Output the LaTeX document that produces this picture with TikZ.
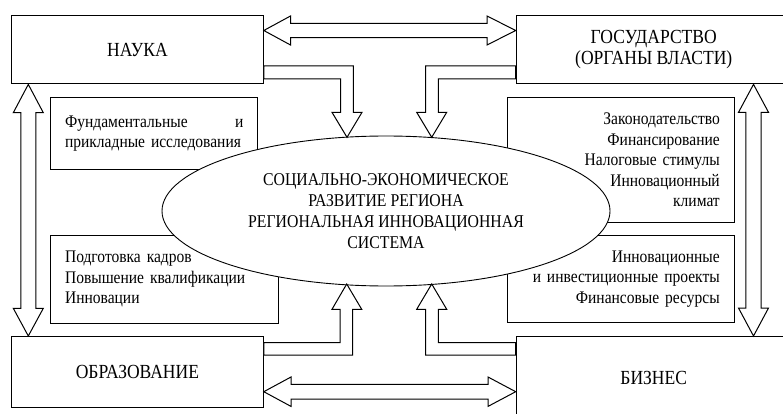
\documentclass[tikz,border=0pt]{standalone}
\usepackage{fontspec}
\setmainfont{Liberation Serif}[FakeStretch=0.877]
\usetikzlibrary{shapes.geometric}

\begin{document}
\begin{tikzpicture}[
    x=1pt, y=-1pt,
    actor/.style={draw, line width=1.1pt, inner sep=0pt, anchor=north west, align=center,
        font=\fontsize{20}{21}\selectfont},
    factors/.style={draw, line width=1.1pt, inner xsep=14.5pt, inner ysep=0pt, anchor=north west,
        font=\fontsize{17.7}{20.5}\selectfont},
    region/.style={ellipse, draw, line width=0.9pt, fill=white, inner sep=0pt, align=center,
        font=\fontsize{18}{20.8}\selectfont},
    blockarrow/.style={draw, line width=1pt, fill=white, line join=miter}
]
\useasboundingbox (0,0) rectangle (783,414);

% === four actors in the corners ===
\node[actor, minimum width=251.7, minimum height=68.3] (nauka) at (11,15) {НАУКА};
\node[actor, minimum width=275, minimum height=68.3] (gos) at (515.7,15) {ГОСУДАРСТВО\\(ОРГАНЫ ВЛАСТИ)};
\node[actor, minimum width=251.7, minimum height=71] (obraz) at (11,336) {ОБРАЗОВАНИЕ};
\node[actor, minimum width=275, minimum height=83] (biz) at (515.7,336) {БИЗНЕС};

% === what each actor brings ===
\node[factors, text width=178.3, minimum height=72.6, align=left] (fund) at (50,96.7)
    {Фундаментальные \hfill и\\прикладные исследования};
\node[factors, text width=198.7, minimum height=87.7, align=left] (kadry) at (50,235)
    {Подготовка кадров\\Повышение квалификации\\Инновации};
\node[factors, text width=197.4, minimum height=125, align=right] (zakon) at (507.3,96.7)
    {Законодательство\\Финансирование\\Налоговые стимулы\\Инновационный\\климат};
\node[factors, text width=197.4, minimum height=86.7, align=right] (proekty) at (507.3,235)
    {Инновационные\\и инвестиционные проекты\\Финансовые ресурсы};

% === centre ===
\node[region, minimum width=448, minimum height=150] (centre) at (386,211)
    {СОЦИАЛЬНО-ЭКОНОМИЧЕСКОЕ\\РАЗВИТИЕ РЕГИОНА\\РЕГИОНАЛЬНАЯ ИННОВАЦИОННАЯ\\СИСТЕМА};

% === two-way links between actors ===
\draw[blockarrow] (nauka.east |- 0,30.5) -- (290.5,16) -- (290.5,23.3) -- (487,23.3) -- (487,16)
    -- (gos.west |- 0,30.5) -- (487,45) -- (487,37.7) -- (290.5,37.7) -- (290.5,45) -- cycle;
\draw[blockarrow] (obraz.east |- 0,391.7) -- (291,377) -- (291,384.3) -- (488,384.3) -- (488,377)
    -- (biz.west |- 0,391.7) -- (488,406.4) -- (488,399.1) -- (291,399.1) -- (291,406.4) -- cycle;
\draw[blockarrow] (nauka.south -| 28.3,0) -- (43.3,112.7) -- (35.8,112.7) -- (35.8,308.3) -- (43.3,308.3)
    -- (obraz.north -| 28.3,0) -- (13.3,308.3) -- (20.8,308.3) -- (20.8,112.7) -- (13.3,112.7) -- cycle;
\draw[blockarrow] (gos.south -| 753.5,0) -- (768.5,112.3) -- (761.2,112.3) -- (761.2,308) -- (768.5,308)
    -- (biz.north -| 753.5,0) -- (738.5,308) -- (745.8,308) -- (745.8,112.3) -- (738.5,112.3) -- cycle;

% === actors feed the centre ===
\draw[blockarrow] (nauka.east |- 0,66) -- (353.3,66) -- (353.3,112.3) -- (362,112.3) -- (347,137.3)
    -- (332,112.3) -- (340.7,112.3) -- (340.7,79) -- (nauka.east |- 0,79) -- cycle;
\draw[blockarrow] (gos.west |- 0,66) -- (425.7,66) -- (425.7,112.3) -- (416.7,112.3) -- (431.7,137.3)
    -- (446.7,112.3) -- (438.3,112.3) -- (438.3,79) -- (gos.west |- 0,79) -- cycle;
\draw[blockarrow] (obraz.east |- 0,355) -- (352.7,355) -- (352.7,309.3) -- (361.7,309.3) -- (346.7,284)
    -- (332,309.3) -- (340,309.3) -- (340,342.7) -- (obraz.east |- 0,342.7) -- cycle;
\draw[blockarrow] (biz.west |- 0,355) -- (425.7,355) -- (425.7,309.3) -- (416.7,309.3) -- (431.7,284)
    -- (446.7,309.3) -- (438.3,309.3) -- (438.3,342.7) -- (biz.west |- 0,342.7) -- cycle;

\end{tikzpicture}
\end{document}
